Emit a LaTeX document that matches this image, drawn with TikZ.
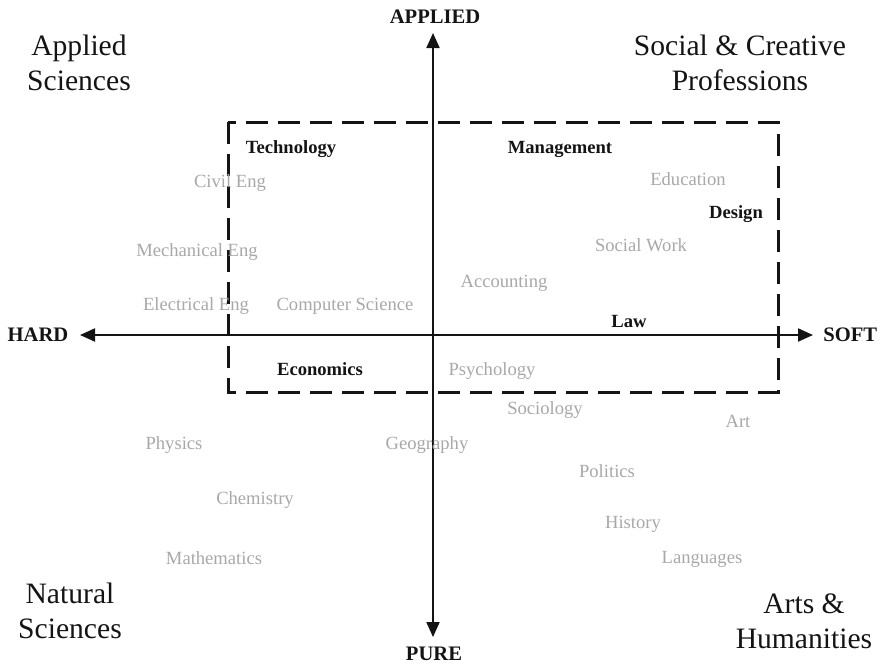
\documentclass[tikz,border=0pt]{standalone}
\usepackage{fontspec}
\setmainfont{Liberation Serif}
\usepackage{xcolor}
\usepackage{tikz}
\usetikzlibrary{arrows.meta,positioning}
\definecolor{ink}{RGB}{20,20,20}
\definecolor{faint}{RGB}{168,168,168}
\def\AxX{433}
\def\AxY{335}
\tikzset{
  corner/.style={
    align=center, font=\fontsize{14.8}{17.5}\selectfont, text=ink, inner sep=0pt,
  },
  axlbl/.style={
    font=\fontsize{10.3}{12}\selectfont\bfseries, text=ink, inner sep=1pt,
  },
  key/.style={
    font=\fontsize{9.3}{11}\selectfont\bfseries, text=ink, inner sep=0pt,
  },
  field/.style={
    font=\fontsize{9.3}{11}\selectfont, text=faint, inner sep=0pt,
  },
  axis/.style={{Triangle[length=7.5pt,width=6.5pt]}-{Triangle[length=7.5pt,width=6.5pt]}, line width=1pt, draw=ink},
  zone/.style={draw=ink, line width=1.5pt, dash pattern=on 11pt off 5pt},
}

\begin{document}
\begin{tikzpicture}[x=0.5pt,y=-0.5pt]
  \useasboundingbox (0,0) rectangle (880,665);

  % quadrant names
  \node[corner] (appsci) at (79,63) {Applied\\Sciences};
  \node[corner] (socpro) at (740,63) {Social \& Creative\\Professions};
  \node[corner] (natsci) at (70,611) {Natural\\Sciences};
  \node[corner] (arthum) at (804,621) {Arts \&\\Humanities};

  % axes
  \coordinate (tipT) at (\AxX,33);
  \coordinate (tipB) at (\AxX,637);
  \coordinate (tipL) at (80,\AxY);
  \coordinate (tipR) at (813,\AxY);
  \draw[axis] (tipB) -- (tipT);
  \draw[axis] (tipL) -- (tipR);
  \node[axlbl] (applied) at (435,17) {APPLIED};
  \node[axlbl] (pure) at (434,654) {PURE};
  \node[axlbl] (hard) at (38,\AxY) {HARD};
  \node[axlbl, anchor=west] (soft) at (821,\AxY) {SOFT};

  % applied zone
  \draw[zone] (228,122) rectangle (778,392);

  \node[key] (tech) at (291,149) {Technology};
  \node[key] (mgmt) at (560,149) {Management};
  \node[key] (design) at (736,214) {Design};
  \node[key] (law) at (629,321) {Law};
  \node[key] (econ) at (320,369) {Economics};

  \node[field] (civil) at (230,183) {Civil Eng};
  \node[field] (edu) at (688,179) {Education};
  \node[field] (socwork) at (641,245) {Social Work};
  \node[field] (mech) at (197,252) {Mechanical Eng};
  \node[field] (acct) at (504,283) {Accounting};
  \node[field] (elec) at (196,306) {Electrical Eng};
  \node[field] (compsci) at (345,306) {Computer Science};
  \node[field] (psych) at (492,371) {Psychology};
  \node[field] (socio) at (545,410) {Sociology};
  \node[field] (art) at (738,421) {Art};
  \node[field] (phys) at (174,445) {Physics};
  \node[field] (geog) at (427,445) {Geography};
  \node[field] (pol) at (607,471) {Politics};
  \node[field] (chem) at (255,500) {Chemistry};
  \node[field] (hist) at (633,524) {History};
  \node[field] (math) at (214,558) {Mathematics};
  \node[field] (lang) at (702,559) {Languages};
\end{tikzpicture}
\end{document}
